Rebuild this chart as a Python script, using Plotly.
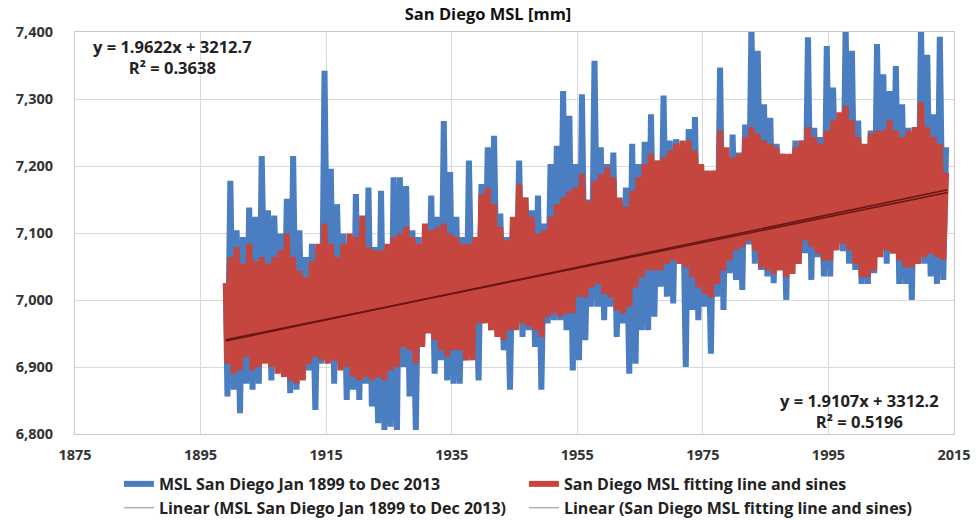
import plotly.graph_objects as go

# Monthly mean sea level at San Diego, summarised per calendar year by the
# seasonal low (spring) and seasonal high (autumn) of each year, in mm.
years = list(range(1899, 2014))

msl_start = 7025
msl_low = [
    6856, 6866, 6831, 6875, 6866, 6875, 6930, 6880, 6905, 6905, 6861, 6866, 6890, 6895,
    6836, 6905, 6915, 6875, 6915, 6851, 6866, 6851, 6875, 6841, 6816, 6806, 6811, 6806,
    6900, 6856, 6806, 6930, 6955, 6890, 6910, 6880, 6875, 6875, 6910, 6930, 6880, 6980,
    6955, 6950, 6925, 6866, 6995, 6945, 6955, 6930, 6866, 6965, 6970, 6970, 6955, 6895,
    6910,
    6940, 6990, 6990, 6970, 6990, 6945, 6965, 6890, 6905, 6955, 6955, 6975, 7020, 7005,
    6995, 7060, 6900, 6985, 6970, 6990, 6920, 7005, 6985, 7040, 7030, 7015, 7083, 7054,
    7045, 7035, 7025, 7045, 7000, 7060, 7080, 7070, 7030, 7064, 7035, 7035, 7093, 7073,
    7054, 7045, 7024, 7024, 7040, 7083, 7054, 7073, 7024, 7024, 7000, 7054, 7054, 7035,
    7024, 7030,
]
msl_high = [
    7178, 7104, 7094, 7138, 7124, 7215, 7134, 7126, 7099, 7151, 7215, 7104, 7064, 7084,
    7054, 7342, 7196, 7143, 7099, 7084, 7158, 7094, 7168, 7079, 7163, 7054, 7183, 7183,
    7170, 7104, 7094, 7084, 7156, 7124, 7267, 7191, 7124, 7094, 7208, 7071, 7173, 7228,
    7245, 7129, 7094, 7104, 7208, 7153, 7134, 7156, 7114, 7203, 7230, 7312, 7275, 7203,
    7307,
    7150, 7357, 7228, 7203, 7220, 7148, 7168, 7233, 7203, 7236, 7277, 7208, 7305, 7238,
    7240, 7223, 7255, 7273, 7193, 7176, 7193, 7347, 7213, 7247, 7220, 7262, 7410, 7372,
    7292, 7272, 7233, 7218, 7208, 7238, 7238, 7392, 7257, 7243, 7379, 7317, 7272, 7410,
    7372, 7268, 7213, 7253, 7382, 7337, 7312, 7349, 7292, 7257, 7243, 7410, 7366, 7277,
    7393, 7228,
]

# Fitted model (line plus sines), same yearly low/high summary.
fit_start = 7025
fit_low = [
    6905, 6890, 6895, 6915, 6895, 6900, 6905, 6900, 6890, 6885, 6880, 6875, 6880, 6905,
    6915, 6910, 6905, 6910, 6895, 6900, 6885, 6880, 6885, 6880, 6885, 6880, 6895, 6900,
    6930, 6925, 6905, 6930, 6950, 6940, 6925, 6915, 6925, 6925, 6910, 6910, 6965, 6965,
    6955, 6945, 6940, 6955, 6955, 6965, 6960, 6955, 6945, 6975, 6980, 6975, 6980, 6980,
    7005,
    7004, 7019, 7024, 7009, 7004, 6985, 6980, 6990, 7019, 7034, 7044, 7044, 7044, 7054,
    7059, 7054, 7049, 7034, 7019, 7009, 7004, 7024, 7044, 7059, 7074, 7079, 7088, 7074,
    7049, 7044, 7039, 7044, 7034, 7039, 7054, 7089, 7079, 7069, 7059, 7059, 7074, 7084,
    7074, 7054, 7034, 7034, 7044, 7064, 7074, 7069, 7059, 7049, 7049, 7054, 7064, 7069,
    7064, 7060,
]
fit_high = [
    7064, 7079, 7054, 7084, 7058, 7064, 7054, 7064, 7074, 7099, 7064, 7044, 7034, 7058,
    7084, 7114, 7084, 7064, 7084, 7099, 7094, 7126, 7079, 7074, 7074, 7084, 7094, 7099,
    7110, 7094, 7084, 7114, 7104, 7109, 7114, 7099, 7094, 7084, 7084, 7094, 7158, 7168,
    7143, 7109, 7089, 7124, 7173, 7153, 7124, 7099, 7104, 7124, 7143, 7153, 7163, 7168,
    7188,
    7148, 7178, 7188, 7198, 7183, 7153, 7139, 7163, 7183, 7203, 7218, 7208, 7213, 7223,
    7233, 7238, 7238, 7223, 7203, 7193, 7193, 7253, 7228, 7213, 7218, 7243, 7258, 7248,
    7238, 7233, 7228, 7218, 7218, 7228, 7238, 7258, 7243, 7233, 7253, 7268, 7280, 7290,
    7268, 7243, 7233, 7248, 7253, 7253, 7268, 7253, 7243, 7253, 7258, 7295, 7258, 7243,
    7233, 7190,
]

# Linear trendlines (y = slope * year + intercept) with their R² values.
trend_msl = dict(slope=1.9622, intercept=3212.7, r2=0.3638)
trend_fit = dict(slope=1.9107, intercept=3312.2, r2=0.5196)

BLUE = "#4a7ec0"
RED = "#c4463f"
TREND = "#6a1616"
FONT = "Open Sans"


def seasonal_path(start, low, high):
    """Sequence Jan start, then spring low and autumn high for every year."""
    xs, ys = [years[0] + 0.02], [start]
    for yr, lo, hi in zip(years, low, high):
        xs += [yr + 0.28, yr + 0.74]
        ys += [lo, hi]
    return xs, ys


fig = go.Figure()

bx, by = seasonal_path(msl_start, msl_low, msl_high)
fig.add_trace(go.Scatter(
    x=bx, y=by, mode="lines", name="MSL San Diego Jan 1899 to Dec 2013",
    line=dict(color=BLUE, width=6),
))

rx, ry = seasonal_path(fit_start, fit_low, fit_high)
fig.add_trace(go.Scatter(
    x=rx, y=ry, mode="lines", name="San Diego MSL fitting line and sines",
    line=dict(color=RED, width=6),
))

x_end = [years[0], years[-1] + 1]
for tr in (trend_msl, trend_fit):
    fig.add_trace(go.Scatter(
        x=x_end, y=[tr["slope"] * x + tr["intercept"] for x in x_end],
        mode="lines", line=dict(color=TREND, width=1.6), showlegend=False,
        hoverinfo="skip",
    ))

for label in ("Linear (MSL San Diego Jan 1899 to Dec 2013)",
              "Linear (San Diego MSL fitting line and sines)"):
    fig.add_trace(go.Scatter(
        x=[None], y=[None], mode="lines", name=label,
        line=dict(color="#b0b0b0", width=1.5),
    ))

ann_font = dict(family=FONT, size=16.5, color="#222", weight="bold")
fig.add_annotation(
    xref="paper", yref="paper", x=0.111, y=0.937, xanchor="center", yanchor="middle",
    text=f"y = {trend_msl['slope']}x + {trend_msl['intercept']}<br>R² = {trend_msl['r2']}",
    showarrow=False, align="center", font=ann_font,
)
fig.add_annotation(
    xref="paper", yref="paper", x=0.893, y=0.058, xanchor="center", yanchor="middle",
    text=f"y = {trend_fit['slope']}x + {trend_fit['intercept']}<br>R² = {trend_fit['r2']}",
    showarrow=False, align="center", font=ann_font,
)

fig.update_layout(
    width=976, height=520,
    margin=dict(l=75, r=22, t=32, b=86, autoexpand=False),
    paper_bgcolor="white", plot_bgcolor="white",
    font=dict(family=FONT, color="#222"),
    title=dict(
        text="San Diego MSL [mm]", x=0.5, xanchor="center", y=0.972, yanchor="middle",
        font=dict(family=FONT, size=16.5, color="#111", weight="bold"),
    ),
    showlegend=True,
    legend=dict(
        orientation="h", x=0.05, y=-0.082, xanchor="left", yanchor="top",
        entrywidth=360, entrywidthmode="pixels", traceorder="normal",
        font=dict(family=FONT, size=16, color="#222", weight="bold"),
        bgcolor="rgba(0,0,0,0)", tracegroupgap=0,
    ),
    xaxis=dict(
        range=[1875, 2015], tick0=1875, dtick=20, showgrid=True, gridcolor="#d9d9d9",
        showline=True, linecolor="#c8c8c8", mirror=True, zeroline=False, ticks="",
        ticklabelstandoff=8,
        tickfont=dict(family=FONT, size=14.5, color="#333", weight="bold"),
    ),
    yaxis=dict(
        range=[6800, 7400], dtick=100, tickformat=",d", showgrid=True, gridcolor="#d9d9d9",
        showline=True, linecolor="#c8c8c8", mirror=True, zeroline=False, ticks="",
        ticklabelstandoff=18,
        tickfont=dict(family=FONT, size=14.5, color="#333", weight="bold"),
    ),
)

fig.write_html("out.html")
